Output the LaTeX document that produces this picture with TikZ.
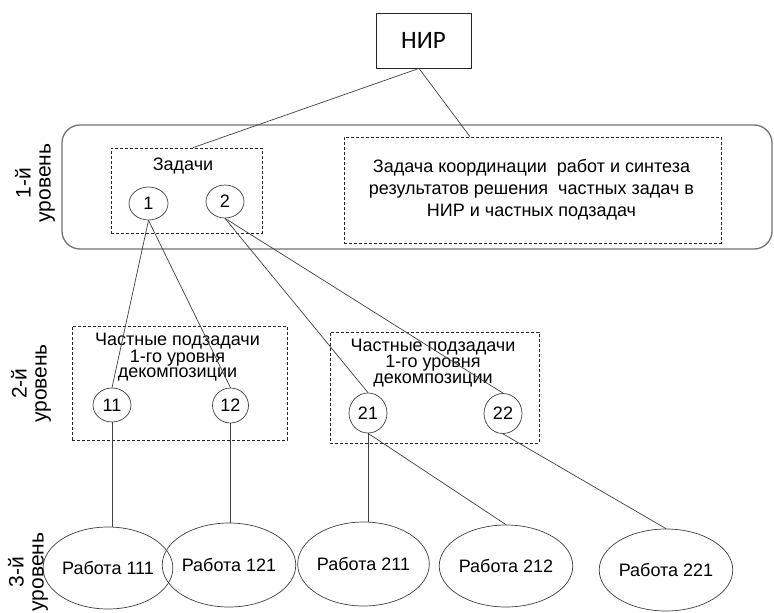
\documentclass[tikz,border=0pt]{standalone}
\usepackage{fontspec}
\setmainfont{Liberation Sans}
\newfontfamily\nirfont{Carlito}
\usetikzlibrary{shapes.geometric,calc}
\tikzset{
  txt/.style={font=\fontsize{18}{22}\selectfont, inner sep=0pt, align=center},
  dbox/.style={draw=black!85, dashed, dash pattern=on 3pt off 2pt, line width=0.7pt, rectangle, inner sep=0pt},
  circ/.style={draw=black!75, ellipse, line width=0.7pt, inner sep=0pt, font=\fontsize{18}{22}\selectfont},
  work/.style={draw=black!75, ellipse, line width=0.7pt, inner sep=0pt, font=\fontsize{18}{22}\selectfont},
  conn/.style={draw=black!75, line width=0.7pt},
  lvl/.style={rotate=90, align=center, font=\fontsize{21}{20}\selectfont, inner sep=0pt},
}
\begin{document}
\begin{tikzpicture}[x=1pt,y=-1pt]
\useasboundingbox (0,0) rectangle (774,613);
\fill[white] (0,0) rectangle (774,613);
% top
\node[draw=black!85, line width=0.8pt, minimum width=95pt, minimum height=55pt, inner sep=0pt, font=\nirfont\fontsize{25}{28}\selectfont] (nir) at (423.5,40.5) {НИР};
% level 1 frame
\node[draw=black!55, line width=1.3pt, rounded corners=18pt, minimum width=710pt, minimum height=124pt, inner sep=0pt] (frame1) at (417,187) {};
\node[dbox, minimum width=151pt, minimum height=85pt] (zadbox) at (186.5,190.5) {};
\node[txt] (zadt) at (183,166) {Задачи};
\node[circ, minimum width=39pt, minimum height=33pt] (c1) at (148.5,203.5) {1};
\node[circ, minimum width=38pt, minimum height=33pt] (c2) at (225,201.5) {2};
\node[dbox, minimum width=377pt, minimum height=106pt] (coordbox) at (532.5,190) {};
\node[txt] (coordt) at (531.5,190) {Задача координации\ \ работ и синтеза\\результатов решения\ \ частных задач в\\НИР и частных подзадач};
% level 2
\node[dbox, minimum width=215pt, minimum height=114pt] (sub1) at (179.5,383) {};
\node[txt, font=\fontsize{18}{15}\selectfont] (sub1t) at (177.5,357) {Частные подзадачи\\1-го уровня\\декомпозиции};
\node[dbox, minimum width=209pt, minimum height=111pt] (sub2) at (434.5,387.5) {};
\node[txt, font=\fontsize{18}{16}\selectfont] (sub2t) at (433,363) {Частные подзадачи\\1-го уровня\\декомпозиции};
\node[circ, minimum width=38pt, minimum height=34pt] (c11) at (112,405) {11};
\node[circ, minimum width=36pt, minimum height=35pt] (c12) at (230.5,405.5) {12};
\node[circ, minimum width=38pt, minimum height=40pt] (c21) at (368,413) {21};
\node[circ, minimum width=38pt, minimum height=40pt] (c22) at (503,413.5) {22};
% level 3
\node[work, minimum width=108pt, minimum height=82pt] (w111) at (108,568) {Работа 111};
\node[work, minimum width=108pt, minimum height=84pt] (w121) at (229,565) {Работа 121};
\node[work, minimum width=113pt, minimum height=84pt] (w211) at (363.5,564) {Работа 211};
\node[work, minimum width=108pt, minimum height=82pt] (w212) at (506,566) {Работа 212};
\node[work, minimum width=108pt, minimum height=82pt] (w221) at (666,570) {Работа 221};
% level labels
\node[lvl] (l1) at (35,183) {1-й\\уровень};
\node[lvl] (l2) at (31,383.5) {2-й\\уровень};
\node[lvl] (l3) at (28,572) {3-й\\уровень};
% connectors
\draw[conn] ([xshift=-4.5pt]nir.south) -- ([xshift=6.5pt]zadbox.north);
\draw[conn] ([xshift=-4.5pt]nir.south) -- ([xshift=-62.5pt]coordbox.north);
\draw[conn] (c1.south) -- (c11.north);
\draw[conn] (c1.south) -- (c12.north);
\draw[conn] (c2.south) -- (c21.north);
\draw[conn] (c2.south) -- (c22.north);
\draw[conn] (c11.south) -- (c11.south |- w111.north);
\draw[conn] (c12.south) -- (c12.south |- w121.north);
\draw[conn] (c21.south) -- (c21.south |- w211.north);
\draw[conn] (c21.south) -- (w212.north);
\draw[conn] (c22.south) -- (w221.north);
\end{tikzpicture}
\end{document}
